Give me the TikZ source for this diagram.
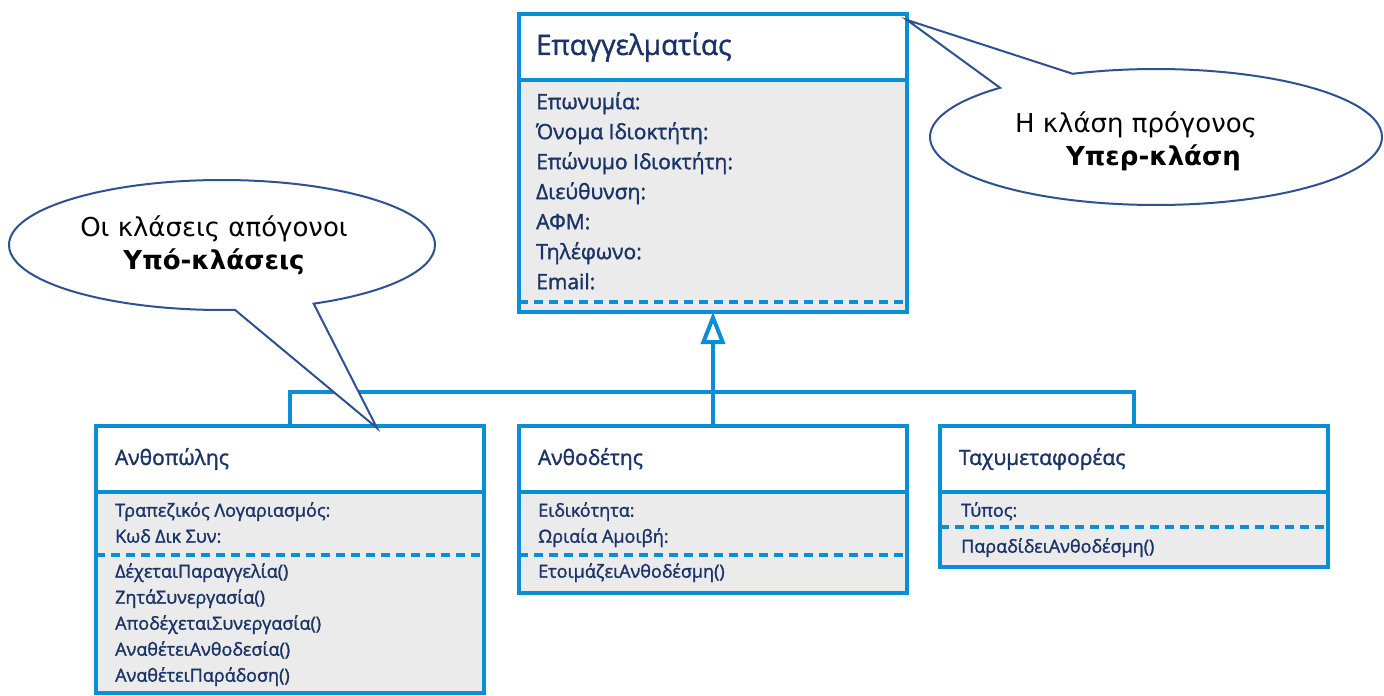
\documentclass[tikz,border=0pt]{standalone}
\usepackage{fontspec}
\setmainfont{Open Sans}[FakeBold=1.5]
\newfontfamily\calloutfont{DejaVu Sans}
\usepackage{tikz}
\usetikzlibrary{arrows.meta,shapes.callouts,positioning}

\definecolor{umlblue}{HTML}{0A8ED6}
\definecolor{umlgray}{HTML}{EBEBEB}
\definecolor{umltext}{HTML}{1A3468}
\definecolor{bubbleline}{HTML}{2F5091}

\begin{document}
\begin{tikzpicture}
		[
			x=1pt, y=-1pt,
			classhead/.style={draw=umlblue, line width=4pt, fill=white, outer sep=0pt, minimum width=388pt, minimum height=66pt, text width=350pt, inner xsep=19pt, align=left, text=umltext, anchor=north west},
			classbody/.style={draw=umlblue, line width=4pt, fill=umlgray, outer sep=0pt, minimum width=388pt, anchor=north},
			members/.style={inner sep=0pt, align=left, anchor=north west, text=umltext, font=\fontsize{18}{26}\selectfont},
			divider/.style={umlblue, line width=4pt, dash pattern=on 9pt off 6pt},
			link/.style={umlblue, line width=4pt},
			inherit/.style={link, -{Triangle[open, length=32pt, width=24pt]}},
			bubble/.style={ellipse callout, draw=bubbleline, line width=2pt, fill=white, callout pointer arc=22, inner sep=0pt, font=\calloutfont\fontsize{26}{33}\selectfont}
		]

		\useasboundingbox (0,0) rectangle (1384,696);

		% super class
		\node[classhead, font=\fontsize{28}{34}\selectfont, inner xsep=17pt, text width=354pt] (ProH) at ( 519, 14) {Επαγγελματίας};
		\node[classbody, minimum height=232pt]	(ProB) at (ProH.south) {};
		\node[members, font=\fontsize{21}{30}\selectfont] (ProA) at ( 536, 92)
			{Επωνυμία:\\Όνομα Ιδιοκτήτη:\\Επώνυμο Ιδιοκτήτη:\\Διεύθυνση:\\ΑΦΜ:\\Τηλέφωνο:\\Email:};
		\draw[divider] ([yshift=10pt]ProB.south west) -- ([yshift=10pt]ProB.south east);

		% sub classes
		\node[classhead, font=\fontsize{21}{26}\selectfont] (FloH) at (  96, 426) {Ανθοπώλης};
		\node[classhead, font=\fontsize{21}{26}\selectfont] (BinH) at ( 519, 426) {Ανθοδέτης};
		\node[classhead, font=\fontsize{21}{26}\selectfont] (CouH) at ( 940, 426) {Ταχυμεταφορέας};
		\node[classbody, minimum height=201pt]	(FloB) at (FloH.south) {};
		\node[classbody, minimum height=101pt]	(BinB) at (BinH.south) {};
		\node[classbody, minimum height=75pt]	(CouB) at (CouH.south) {};

		% members
		\node[members] (FloA) at ( 115, 502) {Τραπεζικός Λογαριασμός:\\Κωδ Δικ Συν:};
		\node[members] (FloM) at ( 115, 563)
			{ΔέχεταιΠαραγγελία()\\ΖητάΣυνεργασία()\\ΑποδέχεταιΣυνεργασία()\\ΑναθέτειΑνθοδεσία()\\ΑναθέτειΠαράδοση()};
		\node[members] (BinA) at ( 538, 502) {Ειδικότητα:\\Ωριαία Αμοιβή:};
		\node[members] (BinM) at ( 538, 563) {ΕτοιμάζειΑνθοδέσμη()};
		\node[members] (CouA) at ( 961, 502) {Τύπος:};
		\node[members] (CouM) at ( 961, 538) {ΠαραδίδειΑνθοδέσμη()};

		\draw[divider] ([yshift=-63pt]FloB.north west) -- ([yshift=-63pt]FloB.north east);
		\draw[divider] ([yshift=-63pt]BinB.north west) -- ([yshift=-63pt]BinB.north east);
		\draw[divider] ([yshift=-35pt]CouB.north west) -- ([yshift=-35pt]CouB.north east);

		% inheritance
		\coordinate (bus) at ( 713, 392);
		\draw[link] (FloH.north) |- (bus) -| (CouH.north);
		\draw[inherit] (BinH.north) -- (ProB.south);

		% callouts
		\node[bubble, minimum width=452pt, minimum height=136pt, align=left,
			callout absolute pointer={([yshift=-6pt]ProH.north east)}] (SuperNote) at (1156, 137)
			{\rule{0pt}{30pt}Η κλάση πρόγονος\hspace*{40pt}\\\hspace*{51pt}\textbf{Υπερ-κλάση}};
		\node[bubble, minimum width=426pt, minimum height=130pt, align=center,
			callout absolute pointer={([xshift=87pt,yshift=-2pt]FloH.north)}] (SubNote) at ( 222, 245)
			{Οι κλάσεις απόγονοι\hspace*{16pt}\\\textbf{Υπό-κλάσεις}\hspace*{16pt}};

	\end{tikzpicture}
\end{document}
